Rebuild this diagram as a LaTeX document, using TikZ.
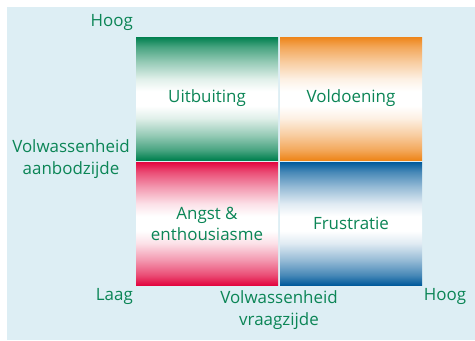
\documentclass[tikz,border=0pt]{standalone}
\usepackage{fontspec}
\setmainfont{Open Sans}
\definecolor{achtergrond}{HTML}{DDEEF4}
\definecolor{tekst}{HTML}{0B8556}
\definecolor{groen}{HTML}{00804F}
\definecolor{oranje}{HTML}{EE8519}
\definecolor{rood}{HTML}{E2063F}
\definecolor{blauw}{HTML}{005A9B}
% verloop: kleur aan de randen, wit in het midden (vlak loopt van 25bp tot 75bp)
\newcommand\kwadrantverloop[1]{%
  \pgfdeclareverticalshading{verloop#1}{100bp}{%
    color(0bp)=(#1); color(25bp)=(#1); color(29bp)=(#1!72!white);
    color(35bp)=(#1!42!white); color(42bp)=(#1!12!white);
    color(47bp)=(white); color(53bp)=(white);
    color(58bp)=(#1!12!white); color(65bp)=(#1!42!white);
    color(71bp)=(#1!72!white); color(75bp)=(#1); color(100bp)=(#1)}}
\kwadrantverloop{groen}
\kwadrantverloop{oranje}
\kwadrantverloop{rood}
\kwadrantverloop{blauw}
\tikzset{
  vak/.style={minimum width=142bp, minimum height=123bp, inner sep=0pt,
    align=center, text=tekst, font=\fontsize{17}{21}\selectfont,
    shading=verloop#1},
  as/.style={text=tekst, align=center, font=\fontsize{17}{22}\selectfont, inner sep=0pt}
}
\begin{document}
\begin{tikzpicture}[x=1bp,y=-1bp]
\useasboundingbox (0,0) rectangle (475,340);
\fill[achtergrond] (7,7) rectangle (475,340);

% de vier kwadranten
\node[vak=groen]  (uitbuiting)  at (207,98.5)  {Uitbuiting};
\node[vak=oranje] (voldoening)  at (351,98.5)  {Voldoening};
\node[vak=rood]   (angst)       at (207,223.5) {Angst \&\\enthousiasme};
\node[vak=blauw]  (frustratie)  at (351,223.5) {Frustratie};

% assen
\node[as, anchor=east] (hoogy) at (133,22) {Hoog};
\node[as] (aanbod) at (71,159) {Volwassenheid\\aanbodzijde};
\node[as, anchor=east] (laag) at (133,296) {Laag};
\node[as] (vraag) at (279,310) {Volwassenheid\\vraagzijde};
\node[as] (hoogx) at (445,296) {Hoog};
\end{tikzpicture}
\end{document}
